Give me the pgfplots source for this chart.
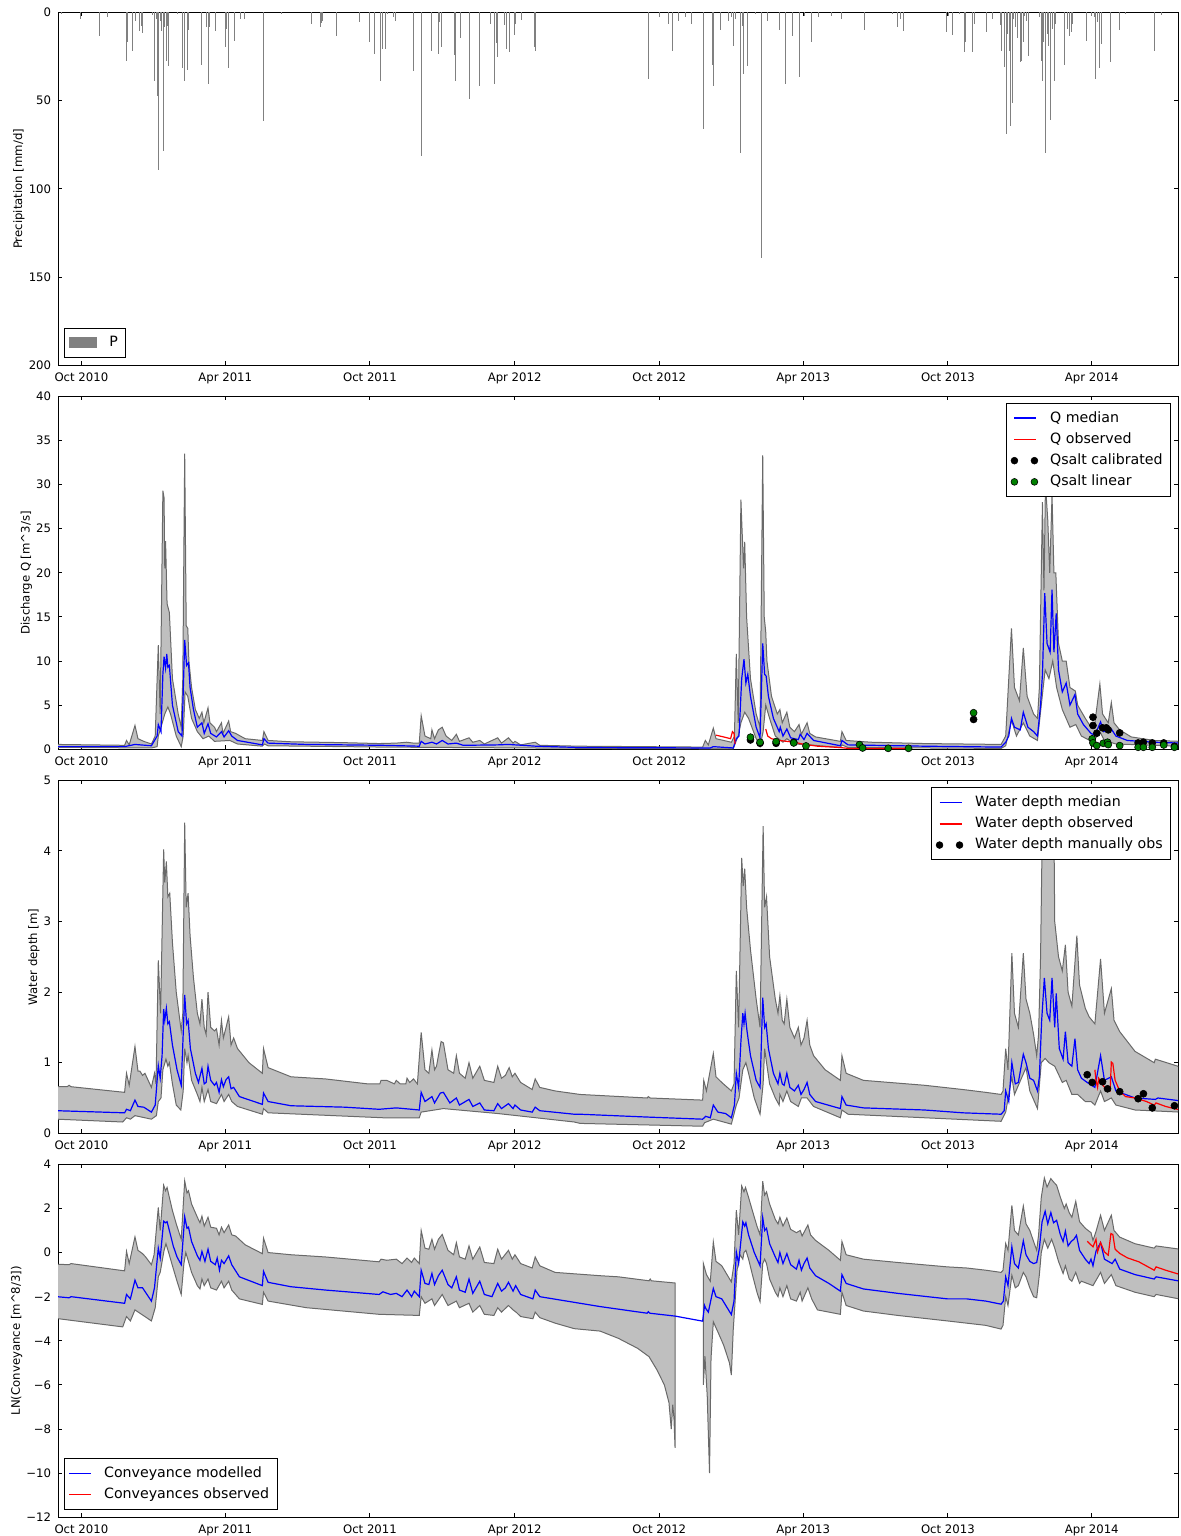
\documentclass[border=0pt]{standalone}
\usepackage{fontspec}
\setmainfont{DejaVu Sans}
\usepackage{pgfplots}
\pgfplotsset{compat=1.18}
\definecolor{bandfill}{RGB}{191,191,191}
\definecolor{bandedge}{RGB}{105,105,105}
\definecolor{pgray}{RGB}{128,128,128}
\definecolor{mplgreen}{RGB}{0,128,0}
\newcommand\tickfont{\fontsize{5.85}{7}\selectfont}
\newcommand\legfont{\fontsize{7.1}{8.5}\selectfont}
\pgfplotsset{
  panel/.style={
    scale only axis, width=560pt, height=176.5pt,
    xmin=-29.3, xmax=1387.3,
    xtick={0,182,365,548,731,913,1096,1278},
    xticklabels={Oct 2010,Apr 2011,Oct 2011,Apr 2012,Oct 2012,Apr 2013,Oct 2013,Apr 2014},
    tick align=inside, major tick length=2pt,
    tick style={black, line width=0.5pt},
    axis line style={line width=0.55pt},
    ticklabel style={font=\tickfont},
    label style={font=\tickfont},
    ylabel style={yshift=-4.75pt},
    /pgf/number format/assume math mode=true,
    minor tick num=0,
    legend style={font=\legfont, draw=black, line width=0.5pt, fill=white,
      inner xsep=2pt, inner ysep=2pt, row sep=-0.3pt,
      /tikz/every odd column/.append style={column sep=4pt}},
    legend cell align=left,
    anchor=south west,
  },
  lineimg/.style={legend image code/.code={\draw[#1, line width=0.8pt] (0pt,0pt) -- (11pt,0pt);}},
  dotimg/.style={legend image code/.code={\draw[black, fill=#1, line width=0.3pt] (0pt,0pt) circle[radius=1.7pt] (10pt,0pt) circle[radius=1.7pt];}},
  band/.style={fill=bandfill, draw=bandedge, line width=0.5pt},
}
\begin{document}
\begin{tikzpicture}
\useasboundingbox (0,0) rectangle (590.5pt,768pt);
% ---------------- Panel 1: precipitation ----------------
\begin{axis}[panel, at={(29.1pt,585.35pt)}, y dir=reverse, ymin=0, ymax=200,
  ytick={0,50,100,150,200}, ylabel={Precipitation [mm/d]},
  legend style={at={(0,0)}, anchor=south west, xshift=3pt, yshift=3.7pt}]
\addplot[ycomb, pgray, line width=0.5pt,
  legend image code/.code={\fill[pgray] (0pt,-2.5pt) rectangle (13.8pt,2.5pt);}] table {
-25.2 1
-1 3.8
23.2 13.2
32.9 2.8
57.1 27.4
58.6 16.6
65.3 22
68.3 4.7
73.1 10.8
75.5 7.5
77.4 11.9
89.6 1.5
92.5 39.2
94.4 3.8
95.8 47.7
97.3 89.2
99.7 4.7
101.7 10.4
104.1 78.7
105.5 8.5
107.9 27.4
109.4 7.5
110.4 30.2
121 0.9
128.3 31.5
130.7 38.7
134.6 32.6
136 9.8
152.5 29.8
158.8 8.5
160.2 40.6
162.6 8.5
169.4 10.4
182 19.4
183 9.4
185.9 31.7
193.1 16.4
194.1 2.8
201.4 3.8
205.7 3.8
230.4 61.7
253.6 0.9
290.9 6.6
303 8.5
304 6
305.4 4.7
323.3 13.6
351.4 5.7
365 16.6
370.8 23.6
378.5 39.2
381.4 20.8
385.3 20.8
387.7 0.9
394.5 2.8
397.4 4.7
420.1 33
429.8 81.5
442.9 21.7
451.1 23.6
453 5.7
455 19.4
471.4 24.2
473.4 39.2
479.2 14.7
490.3 49.4
503.4 41.9
516.9 6.6
522.7 40.6
525.1 17.5
526.6 25.5
535.3 7.2
537.7 20.8
541.1 22.6
548.4 12.8
549.4 6.6
557.1 4.2
572.6 19.8
574 22
717.1 37.7
731.1 2.8
743.2 6.6
748 22
755.3 4.7
764 2.8
771.3 6.6
787.2 66
797.9 29.8
799.3 41.9
808.5 9.8
818.7 4.7
822.1 2.8
824.5 18.9
826.9 3.8
833.2 11.3
834.2 79.8
836.6 7.5
838.1 34.9
842.4 30.6
852.1 0.9
859.8 6.6
860.8 139.2
868.1 4.7
883.5 9.8
890.8 40.6
900 13.6
908.2 36.4
914.1 2.3
923.7 16.6
932 2.8
949.4 1.9
961.5 3.8
990 9.8
1025.4 0.9
1032.6 8.5
1036.5 3.8
1039.9 10.4
1094.6 11.3
1096.5 1.9
1101.8 12.6
1111 0.9
1117.3 22.6
1118.8 16.6
1127 22.6
1129.4 6.6
1144.9 11.3
1152.7 3.8
1162.3 7.2
1163.3 21.7
1168.1 31.1
1170.1 68.9
1172 12.3
1174 21.7
1175.4 64.2
1177.3 51.3
1179.3 3.8
1181.2 8.5
1183.6 14.7
1187.5 28.3
1189 27.4
1191.4 17
1193.3 1.9
1195.7 4.7
1198.1 24.5
1211.7 2.8
1214.1 27.4
1215.6 38.7
1217.5 17
1219 79.8
1221.4 12.3
1223.8 18.9
1226.2 60.8
1228.6 9.4
1231.1 38.7
1232.5 6.6
1243.2 18.9
1244.1 29.8
1247 9.4
1250.4 13.2
1251.9 11.3
1253.8 6.6
1270.7 16
1277 1.9
1281.9 2.8
1283.3 37.7
1285.3 5.7
1287.7 5.7
1288.2 31.7
1290.1 17.9
1302.2 28.3
1313.3 9.8
1320.6 0.9
1357.9 21.7
1366.6 1.5
};
\addlegendentry{P}
\end{axis}
% ---------------- Panel 2: discharge ----------------
\begin{axis}[panel, at={(29.1pt,393.35pt)}, ymin=0, ymax=40,
  ytick={0,5,...,40}, ylabel={Discharge Q [m\textasciicircum 3/s]},
  legend style={at={(1,1)}, anchor=north east, xshift=-3.5pt, yshift=-3.3pt}]
\addplot[band, forget plot] table {
-31 0.55
54.7 0.45
57.1 1.0
60.5 0.5
67.8 2.7
71.6 1.2
78.9 0.9
88.6 0.6
93.4 1.5
97.3 11.8
99.7 4.0
103.1 29.3
104.6 28.5
105.5 20.5
106.5 23.6
108.4 16.5
111.3 15.5
115.2 8.0
122.5 4.0
126.3 2.5
128.3 8.0
130.7 33.5
132.6 14.0
134.6 13.7
136.0 10.0
139.4 7.0
144.2 4.5
149.1 3.5
152.5 4.2
154.9 3.0
160.2 4.7
162.6 3.0
168.4 2.5
170.9 2.0
177.2 3.0
179.1 1.8
186.3 3.2
188.8 2.0
195.1 1.8
207.2 1.2
228.9 1.0
230.9 2.0
236.2 1.0
265.2 0.85
333.0 0.75
376.6 0.65
398.3 0.7
411.4 0.8
420.1 0.7
427.4 0.7
429.8 3.8
434.6 1.5
441.9 1.2
443.4 2.2
446.7 1.2
451.6 2.2
456.4 2.5
461.3 1.5
468.5 1.0
474.3 1.7
478.2 0.9
490.3 1.3
495.1 0.8
503.9 1.0
509.7 0.6
526.6 1.3
531.4 0.7
540.2 1.3
546.0 0.7
548.4 0.9
555.6 0.5
574.0 0.8
579.8 0.45
630.9 0.35
785.8 0.25
789.2 1.0
793.0 0.5
799.3 2.4
802.7 1.2
822.1 0.8
826.0 1.5
828.4 10.8
830.8 3.0
834.2 28.3
835.6 25.0
837.6 20.5
839.0 23.5
841.4 15.0
846.3 8.0
853.5 4.0
858.4 2.5
861.8 33.3
863.7 15.0
865.6 13.3
867.1 10.0
872.9 6.0
880.2 4.0
883.5 4.5
886.5 3.0
892.3 4.2
896.1 2.5
901.9 2.0
907.7 2.8
910.7 1.7
917.9 3.0
921.3 1.8
928.6 1.4
960.0 0.9
962.0 2.0
967.3 1.0
998.7 0.8
1066.5 0.65
1163.3 0.55
1169.1 1.5
1176.4 13.7
1180.2 7.0
1186.5 5.5
1191.4 11.5
1196.2 6.0
1204.4 4.0
1209.3 3.5
1211.7 7.0
1214.1 20.0
1215.6 28.0
1217.5 18.0
1219.4 30.0
1222.3 26.0
1224.8 20.0
1227.7 28.8
1230.1 20.0
1232.5 20.0
1235.9 12.0
1240.7 10.0
1245.6 10.0
1250.4 7.0
1257.2 6.6
1260.1 5.0
1269.8 3.5
1277.0 2.5
1281.9 3.0
1288.2 7.4
1291.6 4.0
1298.8 3.0
1302.7 5.3
1306.1 3.0
1313.3 2.2
1327.9 1.4
1356.9 1.0
1389.8 0.9
1389.8 0.35
1308.5 0.6
1294.0 1.0
1288.2 2.0
1279.5 0.8
1264.9 1.5
1257.7 2.8
1250.4 2.5
1240.7 4.5
1233.5 7.0
1228.6 10.0
1223.8 8.0
1219.0 9.0
1214.1 5.0
1209.3 1.0
1199.6 1.5
1191.4 3.0
1182.7 1.5
1176.4 3.3
1169.1 0.4
1163.3 0.1
969.7 0.2
962.0 0.5
960.0 0.2
921.3 0.5
901.9 0.6
892.3 1.2
887.4 0.8
877.7 1.5
870.5 3.5
865.6 5.0
862.3 2.0
858.4 0.3
853.5 1.2
843.9 3.5
839.0 4.2
834.2 3.0
830.8 1.5
828.4 1.0
824.5 0.05
630.9 0.1
623.4 0.12
381.4 0.25
236.2 0.4
231.4 0.6
228.9 0.35
197.5 0.6
187.8 1.0
168.4 0.9
161.2 1.5
153.9 1.2
146.7 2.0
139.4 3.5
134.6 6.0
131.2 6.5
128.8 1.5
126.3 0.3
120.0 1.5
112.8 4.0
109.4 4.8
105.5 4.0
100.7 2.5
97.3 1.5
95.8 0.3
88.6 0.15
-31 0.22
} -- cycle;
\addplot[blue, line width=0.6pt, forget plot] table {
-31 0.3
54.7 0.3
67.8 0.55
88.6 0.4
95.8 1.5
97.3 2.8
100.7 2.0
103.1 8.5
104.6 10.5
106.5 9.2
108.0 10.8
109.4 9.3
111.3 9.5
115.2 5.0
122.5 2.0
127.3 1.5
130.7 12.4
133.1 9.5
135.5 9.8
137.5 7.0
141.8 4.5
146.7 2.5
152.5 3.0
155.4 1.8
160.2 2.9
163.6 1.8
170.9 1.4
177.2 2.0
180.5 1.4
186.3 2.1
190.2 1.5
197.5 1.0
228.9 0.5
230.9 1.2
236.2 0.7
284.6 0.55
381.4 0.45
427.4 0.35
429.8 0.9
434.6 0.6
443.4 0.8
449.2 0.6
456.4 1.0
463.7 0.6
474.3 0.7
483.0 0.45
526.6 0.5
540.2 0.55
575.0 0.35
623.4 0.22
630.9 0.2
795.5 0.15
799.3 0.3
824.5 0.15
828.4 1.2
831.8 1.5
835.2 8.0
838.1 10.2
840.5 7.5
842.9 8.5
846.3 6.0
853.5 2.5
858.4 1.3
861.8 12.0
864.2 8.5
866.1 8.3
869.0 6.0
875.3 3.5
882.6 2.0
884.0 2.5
887.4 1.5
892.3 2.3
897.1 1.3
906.8 1.1
909.2 1.7
914.0 1.1
917.9 1.8
926.1 1.0
960.0 0.4
962.0 1.0
969.7 0.5
1066.5 0.35
1163.3 0.25
1169.1 0.8
1173.0 1.5
1176.4 3.5
1180.2 2.5
1187.5 2.2
1191.4 4.2
1197.2 2.5
1204.4 2.0
1209.3 1.5
1213.2 5.0
1215.6 8.5
1218.5 17.7
1221.4 12.0
1225.3 11.0
1227.7 18.1
1230.1 11.0
1233.0 15.4
1235.9 9.0
1240.7 6.5
1245.6 7.5
1250.4 5.0
1256.7 6.2
1260.1 4.0
1267.4 2.8
1277.0 1.8
1281.9 1.6
1289.1 3.1
1293.0 2.0
1302.7 2.3
1308.5 1.5
1323.0 1.0
1356.9 0.8
1389.8 0.7
};
\addplot[red, line width=0.6pt, forget plot] table {
802.7 1.6
812.4 1.4
821.1 1.2
823.5 2.0
825.5 1.8
826.9 0.6
};
\addplot[red, line width=0.6pt, forget plot] table {
865.6 2.3
868.1 1.5
872.9 1.2
882.6 1.0
901.9 0.8
911.6 0.6
931.0 0.35
960.0 0.2
969.7 0.1
1047.0 0.1
};
\addplot[only marks, mark=*, mark size=1.75pt, mark options={fill=black, draw=black, line width=0.3pt}, forget plot] table {
846.3 1.06
858.4 0.68
878.7 0.68
901.0 0.80
1128.5 3.38
1279.5 3.64
1279.5 2.70
1284.3 1.82
1291.6 2.43
1296.4 2.43
1298.8 2.20
1313.3 1.86
1336.6 0.72
1343.3 0.80
1354.5 0.72
1369.0 0.72
1382.5 0.34
};
\addplot[only marks, mark=*, mark size=1.75pt, mark options={fill=mplgreen, draw=black, line width=0.3pt}, forget plot] table {
846.3 1.37
858.4 0.80
878.7 0.87
901.0 0.72
916.5 0.38
984.2 0.53
988.1 0.15
1020.5 0.11
1046.2 0.11
1128.5 4.14
1278.5 1.18
1279.5 0.72
1284.3 0.42
1292.5 0.68
1297.9 0.80
1298.8 0.53
1313.3 0.42
1336.6 0.23
1343.3 0.23
1354.5 0.23
1369.0 0.49
1382.5 0.23
};
\addlegendimage{lineimg=blue}
\addlegendentry{Q median}
\addlegendimage{lineimg=red}
\addlegendentry{Q observed}
\addlegendimage{dotimg=black}
\addlegendentry{Qsalt calibrated}
\addlegendimage{dotimg=mplgreen}
\addlegendentry{Qsalt linear}
\end{axis}
% ---------------- Panel 3: water depth ----------------
\begin{axis}[panel, at={(29.1pt,201.35pt)}, ymin=0, ymax=5,
  ytick={0,1,...,5}, ylabel={Water depth [m]},
  legend style={at={(1,1)}, anchor=north east, xshift=-3.5pt, yshift=-3.5pt}]
\addplot[band, forget plot] table {
-31 0.66
-17.9 0.66
-15.5 0.68
-13.1 0.66
54.7 0.58
57.1 0.85
60.5 0.68
67.8 1.23
71.6 0.88
74.1 0.88
77.4 0.82
80.4 0.85
88.6 0.65
92.5 0.85
94.4 0.70
97.3 2.45
100.2 1.70
104.1 4.02
105.5 3.55
107.5 3.85
109.4 3.35
111.8 3.40
115.2 2.70
120.0 2.00
126.3 1.45
128.3 1.70
130.7 4.40
132.6 3.20
135.0 3.40
137.5 2.80
141.8 2.20
146.7 1.70
150.0 1.55
152.5 1.90
155.4 1.50
157.8 1.40
160.2 2.00
163.6 1.50
168.4 1.45
170.9 1.48
174.2 1.25
177.2 1.60
179.6 1.35
183.0 1.50
186.3 1.65
189.3 1.25
192.6 1.35
197.5 1.20
212.0 1.00
228.9 0.85
230.4 1.20
236.2 0.93
265.2 0.80
308.8 0.77
362.0 0.70
377.5 0.70
379.0 0.75
386.2 0.75
395.9 0.70
398.3 0.75
403.2 0.70
410.4 0.70
411.9 0.78
415.3 0.72
420.1 0.77
425.0 0.70
429.8 1.43
434.6 0.90
439.5 0.85
443.4 1.18
446.7 0.90
449.2 0.95
451.6 1.10
455.0 1.30
457.9 1.28
463.7 0.90
470.9 0.85
474.3 1.10
478.2 0.85
485.5 0.78
490.3 1.00
495.1 0.78
503.9 0.95
509.7 0.75
521.8 0.72
526.6 0.95
531.4 0.78
536.3 0.82
541.1 0.93
545.0 0.80
548.4 0.85
555.6 0.72
570.2 0.62
574.0 0.77
579.8 0.65
599.2 0.60
630.9 0.55
715.6 0.50
717.1 0.52
719.5 0.50
785.8 0.47
787.2 0.75
790.6 0.60
799.3 1.13
802.7 0.80
810.0 0.72
822.1 0.60
825.5 0.70
828.4 2.30
831.3 1.50
835.2 3.90
837.1 3.50
839.0 3.75
841.4 3.20
846.3 2.60
853.5 1.90
858.4 1.50
862.3 4.35
864.2 3.20
866.6 3.35
870.5 2.50
877.7 1.90
881.1 1.70
883.5 1.95
886.5 1.60
888.9 1.55
892.3 1.90
896.1 1.50
901.9 1.35
906.8 1.50
910.2 1.25
914.0 1.35
917.9 1.60
921.3 1.25
926.1 1.10
940.7 0.90
960.0 0.75
962.0 1.10
967.3 0.85
989.1 0.75
1066.5 0.68
1114.9 0.62
1143.9 0.58
1163.3 0.55
1165.7 0.60
1169.1 1.20
1172.0 0.90
1176.9 2.55
1180.2 1.70
1185.1 1.50
1191.4 2.55
1194.8 1.90
1199.6 1.70
1204.4 1.40
1208.3 1.10
1210.7 1.40
1213.2 2.50
1215.6 4.50
1219.0 4.60
1222.3 4.40
1226.2 4.70
1230.1 4.40
1231.1 3.00
1235.9 2.50
1240.7 2.30
1244.6 2.67
1248.0 2.00
1252.8 1.80
1259.1 2.80
1262.5 2.10
1269.8 1.77
1274.6 1.65
1281.9 1.55
1289.1 2.47
1294.0 1.70
1302.7 2.05
1306.1 1.60
1313.3 1.44
1332.7 1.16
1356.9 1.00
1358.4 1.05
1389.8 0.94
1389.8 0.30
1332.7 0.33
1308.5 0.40
1302.7 0.50
1294.0 0.45
1289.1 0.60
1281.9 0.40
1277.0 0.45
1269.8 0.45
1264.9 0.50
1260.1 0.55
1252.8 0.55
1245.6 0.75
1240.7 0.72
1231.1 0.95
1223.8 1.00
1219.0 1.06
1214.1 1.00
1209.3 0.35
1199.6 0.60
1194.8 0.93
1180.2 0.55
1176.9 0.80
1169.1 0.30
1163.3 0.17
1066.5 0.22
969.7 0.27
962.0 0.33
960.0 0.22
926.1 0.38
917.9 0.50
910.7 0.50
906.8 0.38
897.1 0.45
892.3 0.60
887.4 0.45
883.5 0.55
882.6 0.40
877.7 0.50
870.5 0.70
866.6 1.00
864.2 1.20
862.3 0.70
858.4 0.27
851.1 0.50
843.9 0.85
840.5 1.00
836.6 0.90
831.8 0.50
828.4 0.40
822.1 0.13
799.3 0.20
788.2 0.15
785.8 0.10
630.9 0.14
623.4 0.16
575.0 0.22
526.6 0.28
457.9 0.35
429.8 0.30
427.4 0.22
381.4 0.22
236.2 0.29
230.4 0.35
228.9 0.27
197.5 0.38
190.2 0.45
186.3 0.55
180.5 0.45
177.2 0.55
170.9 0.42
163.6 0.45
160.2 0.62
155.4 0.45
152.5 0.65
150.0 0.45
146.7 0.55
139.4 0.75
135.0 1.10
133.6 1.00
130.7 1.20
128.8 0.60
125.8 0.33
120.0 0.40
115.2 0.70
111.3 1.00
109.4 0.95
107.0 1.05
103.1 0.90
100.7 0.50
97.3 0.45
94.9 0.25
88.6 0.20
67.8 0.25
62.0 0.20
57.1 0.22
52.3 0.16
-31 0.20
} -- cycle;
\addplot[blue, line width=0.6pt, forget plot] table {
-31 0.32
54.7 0.29
57.1 0.34
62.0 0.32
67.8 0.47
71.6 0.38
78.9 0.37
88.6 0.30
93.4 0.40
97.3 0.96
99.7 0.78
102.1 1.10
104.1 1.76
105.5 1.60
107.5 1.77
109.4 1.55
111.3 1.58
115.2 1.25
121.0 0.90
126.3 0.68
130.7 1.96
133.1 1.55
135.0 1.60
137.9 1.20
144.2 0.85
148.1 0.72
152.5 0.92
155.4 0.70
157.8 0.72
160.2 0.95
163.6 0.75
168.4 0.68
170.9 0.72
174.2 0.58
177.2 0.76
179.6 0.66
183.0 0.76
186.3 0.80
189.3 0.63
192.6 0.65
199.9 0.52
228.9 0.41
230.4 0.57
236.2 0.45
265.2 0.39
333.0 0.37
376.6 0.34
398.3 0.36
427.4 0.33
429.8 0.58
434.6 0.45
443.4 0.52
446.7 0.43
454.0 0.57
457.9 0.58
466.1 0.43
474.3 0.50
478.2 0.40
490.3 0.48
495.1 0.38
503.9 0.43
509.7 0.33
521.8 0.32
526.6 0.42
531.4 0.35
540.2 0.42
546.0 0.35
548.4 0.40
555.6 0.33
570.2 0.30
574.0 0.37
579.8 0.32
623.4 0.27
630.9 0.27
715.6 0.23
785.8 0.20
789.7 0.24
795.5 0.22
799.3 0.40
805.1 0.30
814.8 0.28
822.1 0.22
826.0 0.40
828.4 0.85
831.3 0.65
834.2 1.30
836.6 1.70
838.1 1.55
839.5 1.70
841.9 1.45
846.3 1.10
853.5 0.75
858.4 0.65
861.8 1.92
864.2 1.50
866.1 1.55
869.0 1.20
875.3 0.85
881.1 0.70
883.5 0.85
886.5 0.70
888.9 0.68
892.3 0.85
896.1 0.65
901.9 0.60
906.8 0.68
910.2 0.55
914.0 0.62
917.9 0.72
921.3 0.55
928.6 0.45
960.0 0.35
962.0 0.52
967.3 0.40
989.1 0.36
1066.5 0.33
1114.9 0.29
1163.3 0.27
1167.2 0.32
1169.1 0.60
1173.0 0.45
1176.9 1.00
1181.2 0.70
1185.1 0.72
1191.4 1.12
1194.8 1.00
1199.6 0.78
1204.4 0.75
1209.3 0.60
1211.7 0.80
1214.6 1.60
1218.0 2.20
1221.4 1.70
1224.8 1.60
1227.7 2.20
1231.1 1.50
1233.0 1.98
1236.9 1.20
1241.7 1.05
1244.6 1.44
1248.0 1.00
1252.8 0.95
1256.7 1.34
1260.1 0.90
1264.9 0.78
1272.2 0.72
1281.9 0.65
1289.1 1.10
1294.0 0.75
1302.7 0.80
1308.5 0.60
1332.7 0.50
1358.4 0.48
1361.7 0.50
1389.8 0.46
};
\addplot[red, line width=0.6pt, forget plot] table {
1281.9 0.90
1283.3 0.75
1285.3 0.65
1286.7 0.78
1290.6 0.70
1296.4 0.62
1301.2 0.60
1302.7 1.01
1304.6 0.99
1307.5 0.75
1313.3 0.60
1320.6 0.52
1332.7 0.50
1347.2 0.45
1356.9 0.40
1359.3 0.43
1371.4 0.38
1389.8 0.33
};
\addplot[only marks, mark=*, mark size=1.75pt, mark options={fill=black, draw=black, line width=0.3pt}, forget plot] table {
1272.2 0.83
1278.5 0.72
1291.6 0.73
1297.9 0.63
1313.3 0.59
1336.6 0.49
1343.3 0.56
1354.5 0.36
1382.5 0.39
};
\addlegendimage{lineimg=blue}
\addlegendentry{Water depth median}
\addlegendimage{lineimg=red}
\addlegendentry{Water depth observed}
\addlegendimage{dotimg=black}
\addlegendentry{Water depth manually obs}
\end{axis}
% ---------------- Panel 4: conveyance ----------------
\begin{axis}[panel, at={(29.1pt,9.35pt)}, ymin=-12, ymax=4,
  ytick={-12,-10,...,4}, yticklabels={−12,−10,−8,−6,−4,−2,0,2,4},
  ylabel={LN(Conveyance [m\textasciicircum 8/3])},
  legend style={at={(0,0)}, anchor=south west, xshift=2.9pt, yshift=3.65pt}]
\addplot[band, forget plot] table {
-31 -0.53
-15.5 -0.55
-13.1 -0.50
54.7 -0.83
57.1 0.05
60.5 -0.50
67.8 0.71
71.6 0.10
77.4 -0.05
81.3 -0.20
88.6 -0.55
92.0 -0.10
97.3 2.04
99.7 1.00
104.1 3.05
106.5 2.80
108.4 2.95
111.3 2.50
115.2 1.90
120.0 1.30
126.3 0.60
130.7 3.25
133.6 2.70
135.5 2.80
139.4 2.20
146.7 1.60
150.0 1.35
152.5 1.65
155.4 1.20
160.2 1.60
163.6 1.15
170.9 1.10
174.2 0.80
177.2 1.15
180.5 0.90
186.3 1.25
190.2 0.80
195.1 0.75
207.2 0.35
228.9 -0.05
230.4 0.65
236.2 0.00
265.2 -0.10
308.8 -0.20
376.6 -0.42
379.0 -0.30
386.2 -0.35
398.3 -0.30
405.6 -0.50
411.9 -0.25
417.7 -0.45
421.1 -0.25
427.4 -0.50
429.8 1.00
434.6 0.20
439.5 0.15
443.4 0.60
446.7 0.15
451.6 0.60
456.4 0.82
463.7 0.10
470.9 -0.10
474.3 0.45
478.2 -0.20
485.5 -0.30
490.3 0.30
495.1 -0.30
503.9 0.25
509.7 -0.45
521.8 -0.50
526.6 0.15
531.4 -0.30
540.2 0.10
545.0 -0.30
548.4 -0.10
555.6 -0.50
570.2 -0.70
574.0 -0.20
579.8 -0.60
599.2 -0.90
656.3 -1.05
679.3 -1.10
718.0 -1.28
719.5 -1.20
721.0 -1.28
750.9 -1.38
750.9 -8.85
749.5 -7.50
748.0 -6.90
746.1 -8.00
743.2 -6.80
737.4 -6.00
727.7 -5.30
718.0 -4.72
703.5 -4.34
679.3 -3.89
656.1 -3.56
623.4 -3.45
599.2 -3.20
579.8 -2.95
574.0 -2.70
571.1 -3.00
555.6 -2.90
549.8 -2.70
546.0 -2.60
540.2 -2.40
531.4 -2.70
526.6 -2.50
521.8 -2.85
509.7 -2.80
503.9 -2.40
495.1 -2.70
490.3 -2.30
478.2 -2.50
474.3 -2.20
463.7 -2.40
456.4 -1.90
446.7 -2.40
443.4 -2.10
434.6 -2.30
429.8 -2.00
427.4 -2.85
376.6 -2.80
284.6 -2.50
236.2 -2.20
230.4 -1.80
228.9 -2.35
199.9 -2.10
190.2 -1.70
186.3 -1.30
180.5 -1.60
177.2 -1.30
170.9 -1.70
163.6 -1.60
160.2 -1.20
155.4 -1.50
152.5 -1.20
150.0 -1.65
146.7 -1.50
139.4 -0.90
134.6 -0.30
132.1 0.00
129.7 -0.50
126.3 -1.90
121.0 -1.30
115.2 -0.60
110.4 0.00
107.0 0.40
104.6 0.10
99.7 -0.90
97.3 -1.10
93.4 -2.50
88.6 -3.10
67.8 -2.60
62.0 -3.10
57.1 -2.90
52.3 -3.37
-31 -2.99
} -- cycle;
\addplot[band, forget plot] table {
786.7 -0.50
790.6 -1.00
795.5 -1.30
799.3 0.48
802.7 -0.40
810.0 -0.60
822.1 -1.33
825.5 -0.50
828.4 1.92
831.3 0.80
835.2 3.02
838.1 2.75
840.0 2.95
843.9 2.50
848.7 1.90
854.5 1.20
858.4 0.80
861.8 3.23
864.2 2.60
866.6 2.75
870.5 2.20
877.7 1.50
881.1 1.30
883.5 1.60
887.4 1.20
892.3 1.57
897.1 1.05
904.4 0.90
909.2 1.00
911.6 0.75
918.9 1.25
922.3 0.80
928.6 0.55
945.5 0.10
960.0 -0.35
962.0 0.50
967.3 -0.10
989.1 -0.30
1032.6 -0.45
1095.5 -0.65
1119.7 -0.70
1143.9 -0.80
1163.3 -0.90
1165.7 -0.80
1169.1 0.41
1172.0 0.10
1176.9 2.14
1180.2 1.00
1185.1 0.80
1191.4 2.11
1194.8 1.30
1199.6 1.00
1204.4 0.50
1208.3 0.10
1210.7 0.80
1214.1 2.50
1218.0 3.38
1221.4 2.97
1226.2 3.35
1229.6 3.20
1233.5 3.05
1238.3 2.50
1243.2 2.00
1245.6 2.20
1249.5 1.80
1252.8 1.60
1257.7 2.32
1262.5 1.40
1269.8 1.10
1277.0 0.90
1279.5 0.55
1283.3 0.95
1289.1 1.69
1294.0 1.00
1302.7 1.69
1306.1 1.00
1313.3 0.70
1332.7 0.40
1356.9 0.20
1359.3 0.30
1389.8 0.15
1389.8 -2.11
1359.3 -1.90
1356.9 -2.00
1332.7 -1.80
1308.5 -1.50
1302.7 -1.00
1294.0 -1.40
1289.1 -0.90
1279.5 -1.50
1264.9 -1.30
1262.5 -1.40
1257.7 -0.90
1252.8 -1.30
1249.5 -1.20
1244.6 -0.60
1241.7 -0.95
1235.9 -0.40
1231.1 0.20
1227.2 0.60
1222.3 0.20
1218.0 0.60
1214.1 0.00
1211.7 -1.00
1208.3 -2.05
1204.4 -2.00
1199.6 -1.60
1194.8 -1.10
1191.4 -0.90
1185.1 -1.50
1181.2 -1.60
1176.9 -1.03
1172.0 -2.40
1169.1 -2.00
1165.7 -3.30
1163.3 -3.47
1143.9 -3.30
1095.5 -3.10
1032.6 -2.85
989.1 -2.65
967.3 -2.40
962.0 -1.80
960.0 -2.80
931.0 -2.60
923.7 -2.10
918.9 -1.60
911.6 -2.20
909.2 -1.80
904.4 -2.20
897.1 -2.10
892.3 -1.50
887.4 -2.00
883.5 -1.60
881.1 -2.00
877.7 -1.80
870.5 -1.20
866.6 -0.50
864.2 -0.30
861.8 -0.50
858.4 -2.23
854.5 -1.80
848.7 -1.00
843.9 -0.30
840.5 0.10
838.1 0.00
836.6 -0.30
833.2 -0.10
829.3 -0.80
826.9 -2.20
824.5 -3.50
822.1 -5.55
819.7 -5.00
812.4 -4.20
805.1 -3.60
799.3 -3.14
796.4 -4.80
794.5 -10.00
791.6 -6.50
788.7 -4.70
786.7 -6.00
} -- cycle;
\addplot[blue, line width=0.6pt, forget plot] table {
-31 -2.00
-15.5 -2.05
-13.1 -2.00
54.7 -2.30
57.1 -1.90
62.0 -2.10
67.8 -1.25
71.6 -1.60
77.4 -1.60
88.6 -2.20
92.5 -1.60
97.3 0.20
99.7 -0.25
104.1 1.42
106.5 1.35
108.4 1.40
111.3 1.00
116.2 0.30
121.0 -0.20
126.3 -0.55
130.7 1.62
133.6 1.10
135.5 1.15
139.4 0.50
146.7 -0.15
150.0 -0.35
152.5 0.05
156.3 -0.40
160.2 0.15
163.6 -0.40
169.4 -0.55
171.8 -0.25
174.7 -0.80
177.2 -0.35
180.5 -0.50
186.3 -0.15
190.2 -0.55
199.9 -1.10
228.9 -1.50
230.4 -0.85
236.2 -1.35
265.2 -1.55
308.8 -1.70
376.6 -1.90
381.4 -1.78
391.1 -1.90
398.3 -1.85
405.6 -2.00
411.9 -1.70
417.7 -2.00
421.1 -1.75
427.4 -2.00
429.8 -0.80
434.6 -1.40
439.5 -1.45
443.4 -0.95
446.7 -1.45
451.6 -1.05
456.4 -0.80
463.7 -1.45
468.5 -1.60
474.3 -1.10
478.2 -1.70
485.5 -1.80
490.3 -1.20
495.1 -1.85
503.9 -1.30
509.7 -1.90
519.3 -2.00
526.6 -1.40
531.4 -1.75
536.3 -1.60
540.2 -1.35
546.0 -1.75
549.3 -1.50
555.6 -1.90
571.1 -2.10
574.0 -1.70
579.8 -2.00
656.3 -2.45
715.6 -2.75
717.1 -2.68
719.0 -2.75
750.9 -2.88
785.8 -3.11
788.2 -2.40
789.7 -2.53
793.0 -2.70
799.3 -1.63
802.7 -2.00
810.0 -2.10
822.1 -2.81
825.5 -2.20
828.4 0.03
831.3 -0.50
836.6 1.39
839.0 1.20
840.5 1.35
843.9 0.80
851.1 0.00
858.4 -0.60
861.8 1.58
864.2 1.00
866.6 1.10
870.5 0.40
877.7 -0.20
881.1 -0.45
883.5 0.00
887.4 -0.50
892.3 -0.05
897.1 -0.55
904.4 -0.75
907.7 -0.35
910.7 -0.80
914.0 -0.50
917.9 -0.25
921.3 -0.70
928.6 -1.05
945.5 -1.40
960.0 -1.75
962.0 -1.00
967.3 -1.40
989.1 -1.65
1032.6 -1.85
1095.5 -2.10
1119.7 -2.10
1143.9 -2.20
1163.3 -2.34
1166.2 -2.20
1169.1 -1.10
1172.0 -1.50
1176.9 0.26
1180.2 -0.50
1185.1 -0.70
1191.4 0.53
1194.8 -0.10
1199.6 -0.40
1204.4 -0.50
1208.3 -0.45
1211.7 0.20
1215.1 1.39
1219.0 1.87
1222.3 1.30
1226.2 1.81
1229.6 1.35
1233.5 1.46
1238.3 0.80
1241.7 0.50
1244.6 0.97
1248.0 0.30
1251.9 0.50
1255.3 0.60
1258.6 0.78
1262.5 0.10
1269.8 -0.30
1274.6 -0.50
1277.0 -0.30
1279.5 -0.60
1283.3 0.06
1289.1 0.45
1294.0 -0.30
1303.7 -0.50
1307.5 -0.30
1313.3 -0.75
1332.7 -1.00
1356.9 -1.20
1359.3 -1.10
1389.8 -1.30
};
\addplot[red, line width=0.6pt, forget plot] table {
1272.2 0.51
1279.5 0.26
1283.3 0.60
1285.3 0.03
1289.1 0.45
1294.0 0.03
1298.8 -0.12
1302.2 0.86
1304.6 0.82
1307.5 0.15
1313.3 -0.04
1323.0 -0.24
1337.5 -0.42
1356.9 -0.80
1359.3 -0.65
1371.4 -0.80
1389.8 -1.00
};
\addlegendimage{lineimg=blue}
\addlegendentry{Conveyance modelled}
\addlegendimage{lineimg=red}
\addlegendentry{Conveyances observed}
\end{axis}
\end{tikzpicture}
\end{document}
